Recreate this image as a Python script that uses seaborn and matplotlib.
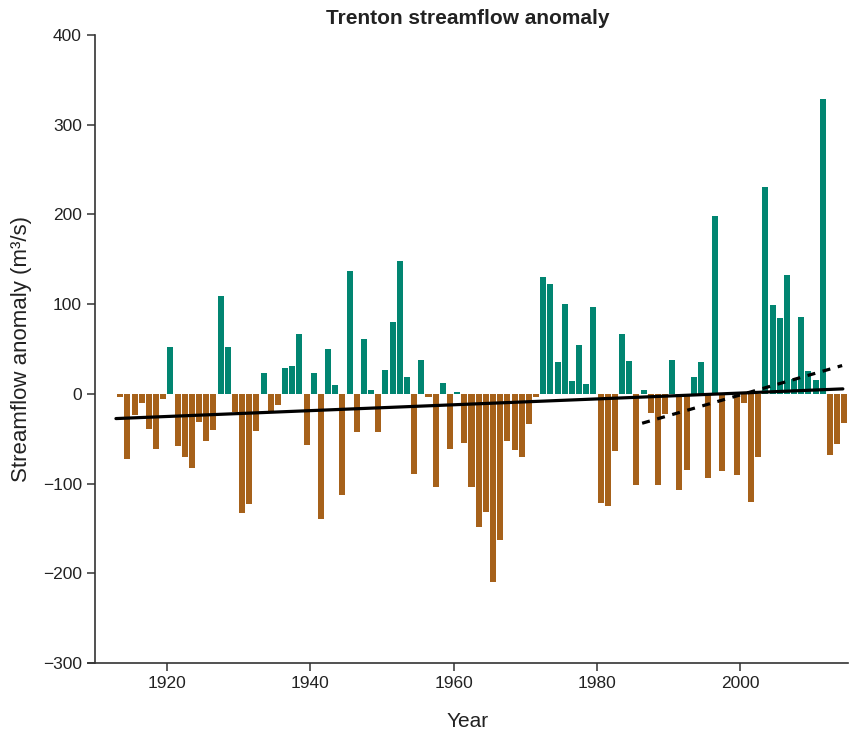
import numpy as np
import pandas as pd
import matplotlib
matplotlib.use("Agg")
import matplotlib.pyplot as plt
import seaborn as sns

# annual anomalies (m3/s)
years = list(range(1913, 2015))
anomaly = [
    -4, -73, -23, -10, -39, -61, -6,                      # 1913-1919
    52, -58, -70, -83, -31, -53, -40, 109, 52, -20,       # 1920s
    -133, -123, -41, 23, -20, -12, 29, 31, 67, -57,       # 1930s
    23, -139, 50, 10, -113, 137, -43, 61, 4, -43,         # 1940s
    27, 80, 148, 19, -89, 38, -4, -104, 12, -61,          # 1950s
    2, -55, -104, -148, -132, -210, -163, -52, -62, -70,  # 1960s
    -33, -4, 130, 122, 36, 100, 14, 55, 11, 97,           # 1970s
    -122, -125, -64, 67, 37, -101, 4, -21, -101, -22,     # 1980s
    38, -107, -85, 19, 36, -94, 198, -86, -1, -90,        # 1990s
    -10, -120, -70, 231, 99, 85, 133, 17, 86, 25,         # 2000s
    15, 329, -68, -56, -32,                               # 2010-2014
]
assert len(years) == len(anomaly)

# trend lines (endpoints)
trend_x = [1912.9, 2014.3]
trend_y = [-27.5, 5.6]
recent_x = [1986.3, 2014.2]
recent_y = [-32.7, 31.6]

TEAL = "#018571"
BROWN = "#a6611a"

sns.set_style("ticks")
plt.rcParams["font.family"] = ["Liberation Sans Narrow", "Liberation Sans", "DejaVu Sans"]

df = pd.DataFrame({"year": years, "anomaly": anomaly})
df["x"] = df["year"] + 0.5
df["sign"] = np.where(df["anomaly"] >= 0, "pos", "neg")

fig = plt.figure(figsize=(8.5, 7.31), dpi=100)
ax = fig.add_axes([0.1035, 0.093, 0.894, 0.859])

sns.barplot(data=df, x="x", y="anomaly", hue="sign",
            palette={"pos": TEAL, "neg": BROWN}, native_scale=True,
            width=0.84, dodge=False, legend=False, saturation=1,
            linewidth=0, ax=ax)

sns.lineplot(x=trend_x, y=trend_y, color="black", lw=2.3, ax=ax)
sns.lineplot(x=recent_x, y=recent_y, color="black", lw=2.3,
             linestyle=(0, (2.5, 2.4)), ax=ax)

ax.set_xlim(1909, 2015)
ax.set_ylim(-300, 400)
ax.set_xticks([1920, 1940, 1960, 1980, 2000])
ax.set_yticks(range(-300, 401, 100))

for s in ["top", "right"]:
    ax.spines[s].set_visible(False)
ax.spines["left"].set_position(("data", 1910))
for s in ["left", "bottom"]:
    ax.spines[s].set_color("#333333")
    ax.spines[s].set_linewidth(1.2)

ax.tick_params(axis="both", direction="out", length=6, width=1.1,
               color="#333333", labelsize=12.5, labelcolor="#222222")

ax.set_xlabel("Year", fontsize=15, color="#222222", labelpad=15)
ax.set_ylabel("Streamflow anomaly (m³/s)", fontsize=16, color="#222222", labelpad=8)
ax.set_title("Trenton streamflow anomaly", fontsize=15, fontweight="bold",
             color="#222222", pad=8)

plt.savefig("out.png", dpi=100)
